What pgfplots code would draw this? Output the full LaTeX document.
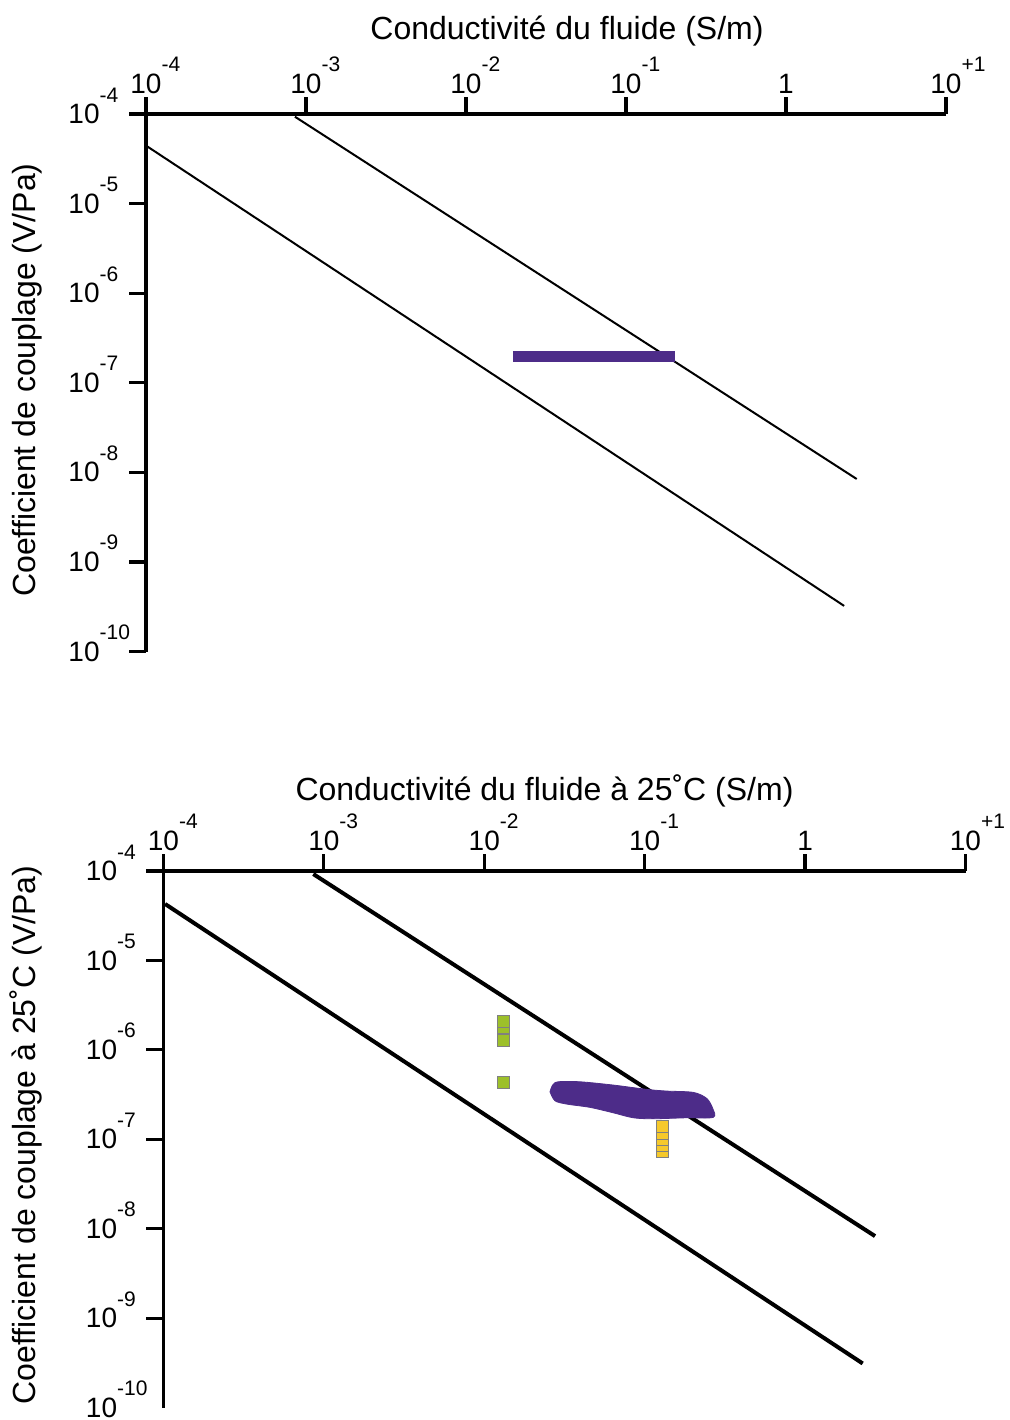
\documentclass[border=0pt]{standalone}
\usepackage{fontspec}
\setmainfont{Liberation Sans}
\usepackage{pgfplots}
\pgfplotsset{compat=1.18}
\definecolor{blobpurple}{RGB}{77,44,137}
\definecolor{sqgreen}{RGB}{157,192,42}
\definecolor{sqyellow}{RGB}{246,201,43}
\newcommand\sups[1]{\rlap{\smash{\raisebox{10.8pt}{\fontsize{10.5}{10.5}\selectfont #1}}}}
\begin{document}
\begin{tikzpicture}
\useasboundingbox (0,0) rectangle (504.5pt,-710pt);
% ---------- top panel ----------
\begin{axis}[
  at={(73pt,-325.75pt)}, anchor=south west, width=400pt, height=268.75pt,
  scale only axis, xmode=log, ymode=log,
  xmin=1e-4, xmax=10, ymin=1e-10, ymax=1e-4,
  axis x line=top, axis y line=left,
  axis line style={-, line width=1.6pt, black},
  tick style={black, line width=1.6pt},
  major tick length=8.5pt, tick align=outside,
  xminorticks=false, yminorticks=false,
  xtick={1e-4,1e-3,1e-2,1e-1,1,10},
  xticklabels={10\sups{-4},10\sups{-3},10\sups{-2},10\sups{-1},1,10\sups{+1}},
  ytick={1e-10,1e-9,1e-8,1e-7,1e-6,1e-5,1e-4},
  yticklabels={10\sups{-10},10\sups{-9},10\sups{-8},10\sups{-7},10\sups{-6},10\sups{-5},10\sups{-4}},
  tick label style={font=\fontsize{14}{14}\selectfont, inner sep=0pt},
  xticklabel style={anchor=base, yshift=2pt},
  yticklabel style={anchor=east, xshift=-14.5pt},
  clip=false]
\addplot[black, line width=1pt] coordinates {(8.53e-4,9.33e-5) (2.767,8.43e-9)};
\addplot[black, line width=1pt] coordinates {(1.01e-4,4.39e-5) (2.31,3.23e-10)};
\addplot[blobpurple, line width=5.5pt] coordinates {(0.01967,1.99e-7) (0.2023,1.99e-7)};
\end{axis}
% ---------- bottom panel ----------
\begin{axis}[
  at={(81.75pt,-703.75pt)}, anchor=south west, width=401pt, height=268.25pt,
  scale only axis, xmode=log, ymode=log,
  xmin=1e-4, xmax=10, ymin=1e-10, ymax=1e-4,
  axis x line=top, axis y line=left,
  axis line style={-, line width=1.6pt, black},
  tick style={black, line width=1.6pt},
  major tick length=8.5pt, tick align=outside,
  xminorticks=false, yminorticks=false,
  xtick={1e-4,1e-3,1e-2,1e-1,1,10},
  xticklabels={10\sups{-4},10\sups{-3},10\sups{-2},10\sups{-1},1,10\sups{+1}},
  ytick={1e-9,1e-8,1e-7,1e-6,1e-5,1e-4},
  yticklabels={10\sups{-9},10\sups{-8},10\sups{-7},10\sups{-6},10\sups{-5},10\sups{-4}},
  extra y ticks={1e-10},
  extra y tick labels={10\sups{-10}},
  extra y tick style={major tick style={draw=none}},
  tick label style={font=\fontsize{14}{14}\selectfont, inner sep=0pt},
  xticklabel style={anchor=base, yshift=2pt},
  yticklabel style={anchor=east, xshift=-14.5pt},
  clip=false]
\addplot[black, line width=2pt] coordinates {(8.59e-4,9.25e-5) (2.729,8.26e-9)};
\addplot[black, line width=2pt] coordinates {(1.023e-4,4.28e-5) (2.286,3.11e-10)};
\addplot[fill=blobpurple, draw=blobpurple, line width=0.4pt, smooth, tension=0.5] coordinates {
 (0.02568,3.398e-7) (0.02669,4.039e-7) (0.02892,4.395e-7) (0.03950,4.395e-7)
 (0.06371,4.039e-7) (0.10292,3.615e-7) (0.13714,3.460e-7) (0.20091,3.346e-7)
 (0.24348,2.867e-7) (0.26538,2.216e-7) (0.26770,1.758e-7) (0.18273,1.740e-7)
 (0.11314,1.696e-7) (0.08488,1.740e-7) (0.06371,1.978e-7) (0.04560,2.274e-7)
 (0.03264,2.475e-7) (0.02759,2.695e-7) (0.02568,3.398e-7)} -- cycle;
\addplot[only marks, mark=square*, mark size=3pt, mark options={fill=sqgreen, draw=gray, line width=0.4pt}] coordinates {
 (0.01309,1.80e-6) (0.01309,2.07e-6) (0.01309,1.27e-6) (0.01309,4.37e-7)};
\addplot[only marks, mark=square*, mark size=3pt, mark options={fill=sqyellow, draw=gray, line width=0.4pt}] coordinates {
 (0.1282,7.38e-8) (0.1282,8.51e-8) (0.1282,9.93e-8) (0.1282,1.172e-7) (0.1282,1.387e-7)};
\end{axis}
% ---------- axis titles ----------
\node[anchor=base, inner sep=0pt, font=\fontsize{16}{16}\selectfont] at (283.5pt,-19.5pt) {Conductivité du fluide (S/m)};
\node[anchor=base, inner sep=0pt, font=\fontsize{16}{16}\selectfont] at (272.25pt,-400pt) {Conductivité du fluide à 25˚C (S/m)};
\node[rotate=90, anchor=base, inner sep=0pt, font=\fontsize{16}{16}\selectfont] at (17.5pt,-190pt) {Coefficient de couplage (V/Pa)};
\node[rotate=90, anchor=base, inner sep=0pt, font=\fontsize{16}{16}\selectfont] at (17.5pt,-567.5pt) {Coefficient de couplage à 25˚C (V/Pa)};
\end{tikzpicture}
\end{document}
